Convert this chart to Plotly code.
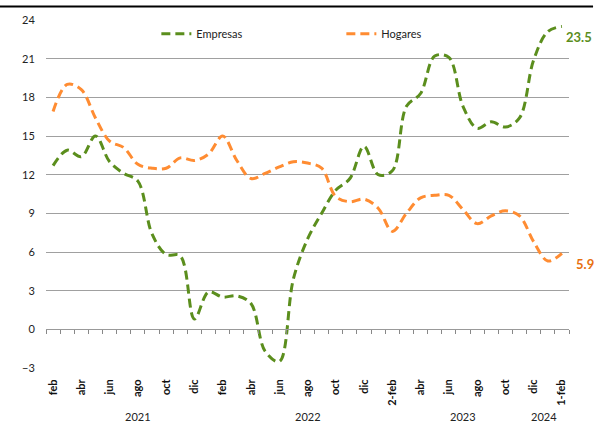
import plotly.graph_objects as go

months = ["feb21","mar21","abr21","may21","jun21","jul21","ago21","sep21","oct21","nov21","dic21",
          "ene22","feb22","mar22","abr22","may22","jun22","jul22","ago22","sep22","oct22","nov22","dic22",
          "ene23","feb23","mar23","abr23","may23","jun23","jul23","ago23","sep23","oct23","nov23","dic23",
          "ene24","feb24"]
empresas = [12.7, 13.9, 13.4, 15.0, 13.0, 12.1, 11.5, 7.4, 5.8, 5.7, 0.8,
            2.9, 2.5, 2.6, 2.0, -1.7, -2.5, 3.9, 7.0, 9.0, 10.8, 11.7, 14.2,
            12.0, 12.3, 17.3, 18.3, 21.2, 21.1, 17.3, 15.6, 16.1, 15.7, 16.4, 20.9,
            23.1, 23.5]
hogares = [16.9, 19.0, 18.6, 16.4, 14.6, 14.1, 12.8, 12.5, 12.5, 13.3, 13.1,
           13.6, 15.0, 13.1, 11.7, 12.1, 12.6, 13.0, 12.9, 12.5, 10.3, 9.9, 10.1,
           9.4, 7.6, 9.0, 10.2, 10.4, 10.4, 9.3, 8.2, 8.8, 9.2, 8.8, 6.8,
           5.3, 5.9]
tick_labels = ["feb","abr","jun","ago","oct","dic","feb","abr","jun","ago","oct","dic",
               "2-feb","abr","jun","ago","oct","dic","1-feb"]
years = ["2021", "2022", "2023", "2024"]
year_pos = [6, 18, 29, 34.7]

GREEN = "#5B8E1D"
ORANGE = "#FF8C32"
LBL_ORANGE = "#E8700F"
FONT = "Lato, 'Open Sans', sans-serif"

x = list(range(len(months)))

fig = go.Figure()
fig.add_trace(go.Scatter(x=x, y=empresas, name="Empresas", mode="lines",
                         line=dict(color=GREEN, width=3, dash="9px,5px", shape="spline", smoothing=1.0)))
fig.add_trace(go.Scatter(x=x, y=hogares, name="Hogares", mode="lines",
                         line=dict(color=ORANGE, width=3, dash="9px,5px", shape="spline", smoothing=1.0)))
# dummy trace to render the zero axis with boundary ticks
fig.add_trace(go.Scatter(x=[None], y=[None], xaxis="x2", showlegend=False, hoverinfo="skip"))

fig.update_layout(
    width=596, height=437,
    margin=dict(l=46, r=27, t=20, b=69),
    paper_bgcolor="white", plot_bgcolor="white",
    font=dict(family=FONT, size=11, color="#222"),
    showlegend=True,
    legend=dict(orientation="h", x=0.211, y=1.002, xanchor="left", yanchor="top",
                bgcolor="rgba(0,0,0,0)", entrywidth=140, entrywidthmode="pixels",
                font=dict(size=11, family=FONT)),
    xaxis=dict(range=[-0.5, len(months) - 0.5], tickmode="array",
               tickvals=x[::2], ticktext=tick_labels, tickangle=-90,
               tickfont=dict(size=11, family=FONT, color="#111", weight="bold"),
               ticks="outside", ticklen=6, tickcolor="rgba(0,0,0,0)",
               showgrid=False, zeroline=False, showline=False),
    xaxis2=dict(range=[-0.5, len(months) - 0.5], overlaying="x", anchor="free",
                position=3 / 27, tickmode="linear", tick0=-0.5, dtick=1,
                ticks="outside", ticklen=4, tickcolor="#888", showticklabels=False,
                showline=True, linecolor="#999", linewidth=1, showgrid=False, zeroline=False),
    yaxis=dict(range=[-3, 24], tickmode="linear", tick0=-3, dtick=3,
               showgrid=True, gridcolor="#A0A0A0", gridwidth=1, zeroline=False,
               showline=False, ticks="outside", ticklen=8, tickcolor="rgba(0,0,0,0)",
               tickfont=dict(size=11, family=FONT, color="#222")),
)

for yr, pos in zip(years, year_pos):
    fig.add_annotation(x=pos, y=-0.14, xref="x", yref="paper", text=yr, showarrow=False,
                       font=dict(size=11, family=FONT, color="#222"), yanchor="middle")

fig.add_annotation(x=x[-1], y=empresas[-1], xref="x", yref="y", text=f"{empresas[-1]:.1f}",
                   showarrow=False, xanchor="left", xshift=2, yshift=-11,
                   font=dict(size=13, family=FONT, color=GREEN, weight="bold"))
fig.add_annotation(x=x[-1], y=hogares[-1], xref="x", yref="y", text=f"{hogares[-1]:.1f}",
                   showarrow=False, xanchor="left", xshift=12, yshift=-11,
                   font=dict(size=13, family=FONT, color=LBL_ORANGE, weight="bold"))

# thin black rule at the very top (header underline)
fig.add_shape(type="rect", xref="paper", yref="paper", x0=-0.088, x1=1.046, y0=1.036, y1=1.042,
              layer="above", fillcolor="black", line=dict(width=0))

fig.write_html("out.html", config={"displayModeBar": False},
               post_script="document.body.style.margin='0';")
